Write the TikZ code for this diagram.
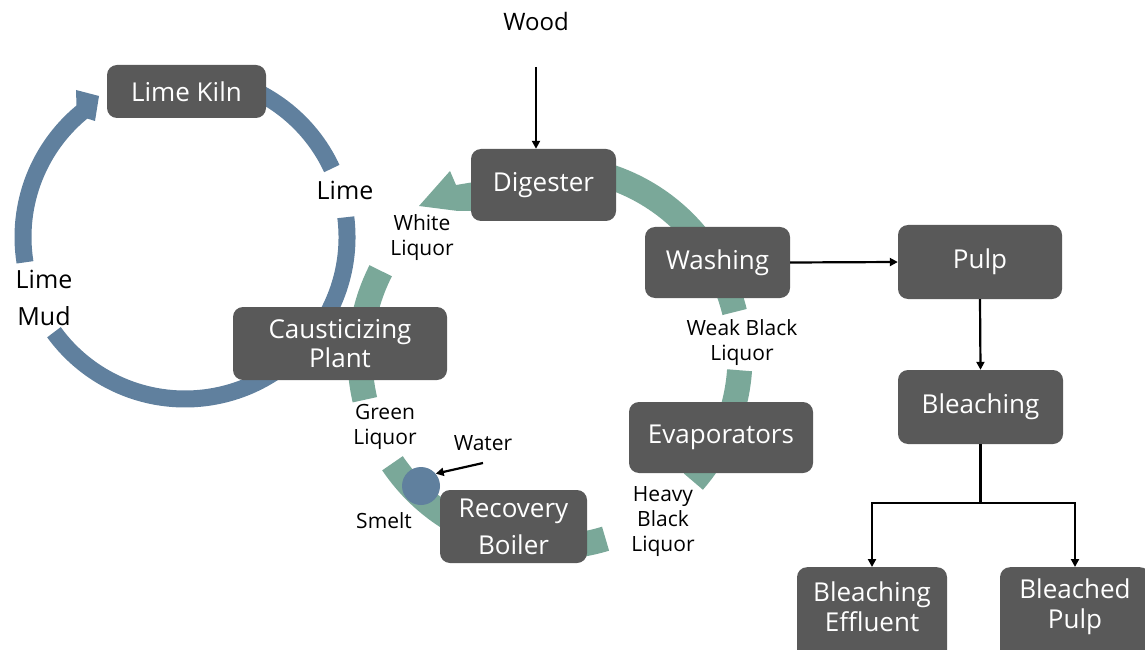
\documentclass[tikz,border=0pt]{standalone}
\usepackage{fontspec}
\setmainfont{Open Sans}
\usetikzlibrary{arrows.meta,calc}
\definecolor{boxgray}{HTML}{595959}
\definecolor{ringblue}{HTML}{60809E}
\definecolor{ringgreen}{HTML}{7AA899}
\begin{document}
\begin{tikzpicture}[x=1pt,y=1pt,
 box/.style={fill=boxgray, rounded corners=10pt, text=white, font=\fontsize{26}{29}\selectfont, align=center, inner sep=0pt},
 boxtext/.style={text=white, font=\fontsize{26}{30}\selectfont, align=center, inner sep=0pt},
 lbl/.style={font=\fontsize{21}{25}\selectfont, align=center, inner sep=0pt},
 biglbl/.style={font=\fontsize{25}{37}\selectfont, align=center, inner sep=0pt},
 arr/.style={line width=2.2pt, -{Triangle[length=8pt,width=8pt]}},
 plainline/.style={line width=2.2pt},
 bluering/.style={draw=ringblue, line width=17pt},
 greenring/.style={draw=ringgreen, line width=25pt}]
\useasboundingbox (0,0) rectangle (1145,649);
\coordinate (BC) at (185,412);
\coordinate (GC) at (550,292);
% lime cycle
\draw[bluering] ([shift={(189:162)}]BC) arc[start angle=189,end angle=128,radius=162];
\fill[ringblue] (76.5,543.6) -- (76,559) -- (99,553) -- (95,528) -- (87.4,530.4) -- cycle;
\draw[bluering] ([shift={(100:162)}]BC) arc[start angle=100,end angle=25,radius=162];
\draw[bluering] ([shift={(7:162)}]BC) arc[start angle=7,end angle=-144,radius=162];
% liquor cycle
\draw[greenring] ([shift={(105:190)}]GC) arc[start angle=105,end angle=13.7,radius=190];
\draw[greenring] ([shift={(-4:190)}]GC) arc[start angle=-4,end angle=-41,radius=190];
\draw[greenring] ([shift={(-73:190)}]GC) arc[start angle=-73,end angle=-146,radius=190];
\draw[greenring] ([shift={(193:190)}]GC) arc[start angle=193,end angle=153,radius=190];
\fill[ringgreen] (419,443) -- (450,478) -- (456,464) -- (480,468) -- (480,438) -- (458,438) -- cycle;
\node[circle, fill=ringblue, minimum size=38pt, inner sep=0pt] (smelt) at (421,163) {};
% boxes
\node[box, minimum width=159pt, minimum height=53pt] (kiln) at (186.5,557.5) {Lime Kiln};
\node[box, minimum width=145pt, minimum height=72pt] (digester) at (543.5,464) {Digester};
\node[box, minimum width=145pt, minimum height=71pt] (washing) at (717.5,386.5) {Washing};
\node[box, minimum width=164pt, minimum height=74pt] (pulp) at (980,387) {Pulp};
\node[box, minimum width=165pt, minimum height=74pt] (bleaching) at (980.5,242) {Bleaching};
\node[box, minimum width=184pt, minimum height=71pt] (evap) at (721,211.5) {Evaporators};
\node[box, minimum width=147pt, minimum height=73pt, font=\fontsize{26}{37}\selectfont] (recovery) at (513.5,122.5) {Recovery\\Boiler};
\node[box, minimum width=214pt, minimum height=73pt] (caustic) at (340,305.5) {Causticizing\\Plant};
\node[box, minimum width=150pt, minimum height=120pt, anchor=north] (effluent) at (872,82) {};
\node[boxtext] (efftext) at (872,42) {Bleaching\\Effluent};
\node[box, minimum width=150pt, minimum height=120pt, anchor=north] (bpulp) at (1075,82) {};
\node[boxtext] (bptext) at (1075,42) {Bleached\\Pulp};
% connectors
\coordinate (woodtail) at (536,582);
\draw[arr] (woodtail) -- (woodtail |- digester.north);
\draw[arr] (washing.east) -- (pulp.west);
\draw[arr] (pulp.south) -- (bleaching.north);
\coordinate (split) at (980.5,146);
\draw[plainline] (bleaching.south) -- (split);
\draw[arr] (split) -| (effluent.north);
\draw[arr] (split) -| (bpulp.north);
\coordinate (watertail) at (483,186);
\draw[arr] (watertail) -- (smelt.40);
% labels
\node[biglbl] (lime) at (345,459) {Lime};
\node[biglbl] (limemud) at (44,351) {Lime\\Mud};
\node[font=\fontsize{24}{28}\selectfont, inner sep=0pt] (wood) at (536,627) {Wood};
\node[lbl] (white) at (422,411) {White\\Liquor};
\node[lbl] (weak) at (742,306) {Weak Black\\Liquor};
\node[lbl] (green) at (385,222) {Green\\Liquor};
\node[lbl] (water) at (483,206) {Water};
\node[lbl] (smeltl) at (384,128) {Smelt};
\node[lbl] (heavy) at (663,127) {Heavy\\Black\\Liquor};
\end{tikzpicture}
\end{document}
